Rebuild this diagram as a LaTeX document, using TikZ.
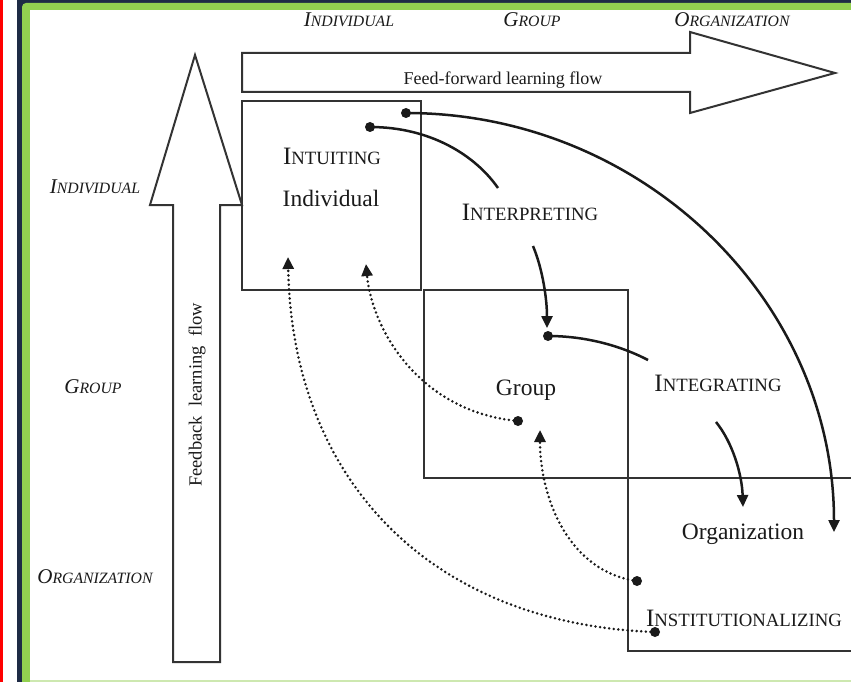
\documentclass[tikz,border=0pt]{standalone}
\usepackage{fontspec}
\setmainfont{Liberation Serif}
\usetikzlibrary{arrows.meta}

\definecolor{ink}{HTML}{1A1A1A}
\definecolor{rule}{HTML}{333333}
\definecolor{navy}{HTML}{1E2B45}
\definecolor{leaf}{HTML}{92D050}
\definecolor{leafpale}{HTML}{CDE8B0}

% fake small capitals: first letter at full size, the rest smaller
\newcommand\capsc[4]{{\fontsize{#3}{#3}\selectfont #1}{\fontsize{#4}{#4}\selectfont #2}}
\newcommand\stagename[2]{\capsc{#1}{#2}{25pt}{18.75pt}}
\newcommand\levelname[2]{\itshape\capsc{#1}{#2}{21pt}{15.75pt}}

\tikzset{
  lbl/.style={inner sep=0pt, text=ink},
  bigarrow/.style={draw=rule, line width=2pt, line join=miter, fill=white},
  boxline/.style={draw=rule, line width=2.1pt},
  dot/.style={circle, fill=ink, inner sep=0pt, minimum size=10pt},
  flow/.style={draw=ink, line width=2.5pt},
  backflow/.style={draw=ink, line width=2.8pt, dash pattern=on 0pt off 4.6pt, line cap=round},
  tip/.style={-{Triangle[length=12pt,width=11pt]}}
}

\begin{document}
\begin{tikzpicture}[x=1pt,y=-1pt]
\useasboundingbox (0,0) rectangle (851,682);

% page frame
\fill[white] (0,0) rectangle (851,682);
\fill[red] (0,0) rectangle (3,682);
\fill[navy] (17,0) rectangle (851,4);
\fill[navy] (17,0) rectangle (23,682);
\fill[leaf, rounded corners=4pt] (22,3) rectangle (870,700);
\fill[white] (30,10) rectangle (851,680);
\fill[leafpale] (30,680) rectangle (851,682);

% the two broad flow arrows
\draw[bigarrow] (173,662) -- (173,205) -- (150,205) -- (195,55) -- (242,205)
  -- (220,205) -- (220,662) -- cycle;
\draw[bigarrow] (242,53) -- (690,53) -- (690,32) -- (835,73) -- (690,113)
  -- (690,92) -- (242,92) -- cycle;
\node[lbl, font=\fontsize{18pt}{18pt}\selectfont] (ffl) at (503,80) {Feed-forward learning flow};
\node[lbl, rotate=90, font=\fontsize{18.5pt}{18.5pt}\selectfont] (fbl) at (197,395) {Feedback\ \ learning\ \ flow};

% level boxes
\draw[boxline] (242,101) rectangle (421,290);
\draw[boxline] (424,290) rectangle (628,478);
\draw[boxline] (628,478) rectangle (870,651);

% level headings
\node[lbl] (hind) at (349,20) {\levelname{I}{NDIVIDUAL}};
\node[lbl] (hgrp) at (532,20) {\levelname{G}{ROUP}};
\node[lbl] (horg) at (732,20) {\levelname{O}{RGANIZATION}};
\node[lbl] (vind) at (95,187) {\levelname{I}{NDIVIDUAL}};
\node[lbl] (vgrp) at (93,387) {\levelname{G}{ROUP}};
\node[lbl] (vorg) at (95,577) {\levelname{O}{RGANIZATION}};

% processes and levels
\node[lbl] (intuit) at (332,156) {\stagename{I}{NTUITING}};
\node[lbl, font=\fontsize{23.5pt}{23.5pt}\selectfont] (indiv) at (331,198) {Individual};
\node[lbl] (interp) at (530,212) {\stagename{I}{NTERPRETING}};
\node[lbl, font=\fontsize{23.5pt}{23.5pt}\selectfont] (group) at (526,390) {Group};
\node[lbl] (integ) at (718,383) {\stagename{I}{NTEGRATING}};
\node[lbl, font=\fontsize{23.5pt}{23.5pt}\selectfont] (organ) at (743,534) {Organization};
\node[lbl] (inst) at (744,618) {\stagename{I}{NSTITUTIONALIZING}};

% start dots
\node[dot] (d1) at (370,127) {};
\node[dot] (d2) at (406,113) {};
\node[dot] (d3) at (548,336) {};
\node[dot] (d4) at (518,421) {};
\node[dot] (d5) at (637,581) {};
\node[dot] (d6) at (655,632) {};

% free ends
\coordinate (e1) at (498,188);
\coordinate (e2) at (834,532);
\coordinate (s3) at (533,246);
\coordinate (e3) at (547,328);
\coordinate (e4) at (648,360);
\coordinate (s5) at (716,422);
\coordinate (e5) at (743,507);
\coordinate (e6) at (366,264);
\coordinate (e7) at (540,430);
\coordinate (e8) at (288,257);

% feed-forward links
\draw[flow] (d1.center) .. controls (430,127) and (475,155) .. (e1);
\draw[flow, tip] (d2.center) .. controls (642,113) and (834,300) .. (e2);
\draw[flow, tip] (s3) .. controls (543,270) and (547,300) .. (e3);
\draw[flow] (d3.center) .. controls (590,336) and (625,348) .. (e4);
\draw[flow, tip] (s5) .. controls (733,443) and (742,475) .. (e5);

% feedback links
\draw[backflow, tip] (d4.center) .. controls (420,412) and (372,330) .. (e6);
\draw[backflow, tip] (d5.center) .. controls (570,572) and (540,500) .. (e7);
\draw[backflow, tip] (d6.center) .. controls (430,624) and (292,480) .. (e8);
\end{tikzpicture}
\end{document}
